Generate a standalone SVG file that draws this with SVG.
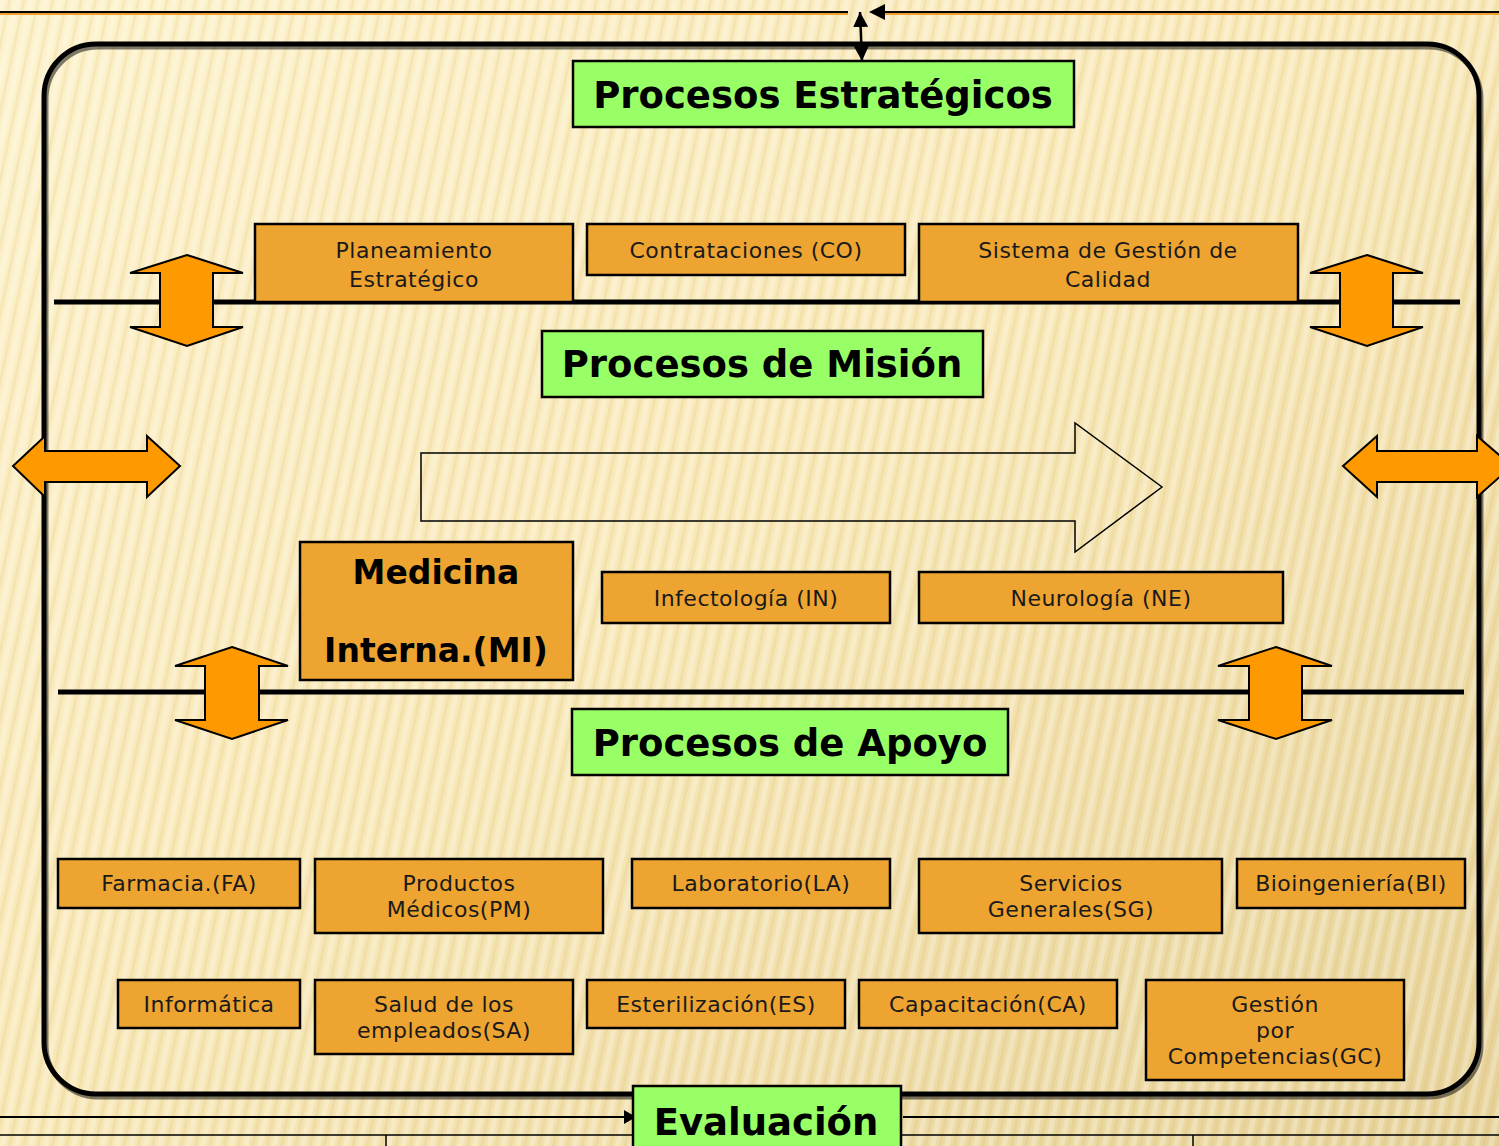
<svg xmlns="http://www.w3.org/2000/svg" width="1499" height="1146" viewBox="0 0 1499 1146">
<defs>
<linearGradient id="bg" x1="0" y1="0" x2="1" y2="1">
<stop offset="0" stop-color="#FDF2CC"/>
<stop offset="0.5" stop-color="#F8E8B8"/>
<stop offset="1" stop-color="#E6D29A"/>
</linearGradient>
<pattern id="stripes" width="14" height="14" patternUnits="userSpaceOnUse" patternTransform="rotate(12)">
<rect x="0" y="0" width="5" height="14" fill="#FFFFFF" opacity="0.25"/>
<rect x="8" y="0" width="3" height="14" fill="#C9A44A" opacity="0.12"/>
</pattern>
<marker id="ah" viewBox="0 0 10 10" refX="10" refY="5" markerWidth="6" markerHeight="6" orient="auto-start-reverse">
<path d="M0,0 L10,5 L0,10 z" fill="#000"/>
</marker>
<style>
.lbl{font-family:"DejaVu Sans",Verdana,sans-serif;font-size:22px;letter-spacing:0.5px;fill:#1a1a1a;text-anchor:middle}
.big{font-family:"DejaVu Sans",Verdana,sans-serif;font-weight:bold;font-size:37px;fill:#000;text-anchor:middle}
.mi{font-family:"DejaVu Sans",Verdana,sans-serif;font-weight:bold;font-size:33px;fill:#000;text-anchor:middle}
.ob{fill:#EEA431;stroke:#000;stroke-width:2.5}
.gb{fill:#99FF66;stroke:#000;stroke-width:2.5}
.oa{fill:#FF9900;stroke:#000;stroke-width:2;stroke-linejoin:miter}
.ln{stroke:#000;fill:none}
</style>
</defs>
<rect width="1499" height="1146" fill="url(#bg)"/>
<rect width="1499" height="1146" fill="url(#stripes)"/>

<g id="connectors">
<line x1="0" y1="14" x2="848" y2="14" stroke="#F0A030" stroke-width="2"/>
<line x1="880" y1="14" x2="1499" y2="14" stroke="#F0A030" stroke-width="2"/>
<line x1="0" y1="12" x2="848" y2="12" class="ln" stroke-width="2"/>
<line x1="1499" y1="12" x2="872" y2="12" class="ln" stroke-width="2"/>
<path d="M869,12 L885,4 L885,20 z" fill="#000"/>
<line x1="860" y1="12" x2="862" y2="61" class="ln" stroke-width="2.5" marker-start="url(#ah)" marker-end="url(#ah)"/>
<rect x="44" y="44" width="1435" height="1050" rx="52" ry="52" class="ln" stroke="#6b6250" stroke-width="5" transform="translate(2,3)" opacity="0.5"/>
<rect x="44" y="44" width="1435" height="1050" rx="52" ry="52" class="ln" stroke-width="5"/>
<line x1="54" y1="302" x2="1460" y2="302" class="ln" stroke-width="5"/>
<line x1="58" y1="692" x2="1464" y2="692" class="ln" stroke-width="5"/>
<line x1="0" y1="1117" x2="624" y2="1117" class="ln" stroke-width="2"/>
<path d="M636,1117 L624,1110 L624,1124 z" fill="#000"/>
<line x1="903" y1="1117" x2="1499" y2="1117" class="ln" stroke-width="2"/>
<line x1="0" y1="1135" x2="1499" y2="1135" class="ln" stroke-width="1.5"/>
<line x1="386" y1="1135" x2="386" y2="1146" class="ln" stroke-width="1.5"/>
<line x1="1193" y1="1135" x2="1193" y2="1146" class="ln" stroke-width="1.5"/>
<polygon class="oa" points="187,255 243,273 213,273 213,327 243,327 187,346 130,327 160,327 160,273 130,273"/>
<polygon class="oa" points="1367,255 1423,273 1393,273 1393,327 1423,327 1367,346 1310,327 1340,327 1340,273 1310,273"/>
<polygon class="oa" points="232,647 288,666 259,666 259,720 288,720 232,739 175,720 205,720 205,666 175,666"/>
<polygon class="oa" points="1276,647 1332,666 1302,666 1302,720 1332,720 1276,739 1218,720 1249,720 1249,666 1218,666"/>
<polygon class="oa" points="13,466 45,436 45,451 147,451 147,436 180,466 147,497 147,482 45,482 45,497"/>
<polygon class="oa" points="1343,466 1377,436 1377,451 1477,451 1477,436 1512,466 1477,497 1477,482 1377,482 1377,497"/>
<polygon points="421,453 1075,453 1075,423 1162,487 1075,552 1075,521 421,521" fill="none" stroke="#000" stroke-width="1.5"/>
</g>

<g id="n-estrategicos"><rect class="gb" x="573" y="61" width="501" height="66"/><text class="big" x="823" y="108">Procesos Estratégicos</text></g>
<g id="n-mision"><rect class="gb" x="542" y="331" width="441" height="66"/><text class="big" x="762" y="377">Procesos de Misión</text></g>
<g id="n-apoyo"><rect class="gb" x="572" y="709" width="436" height="66"/><text class="big" x="790" y="756">Procesos de Apoyo</text></g>
<g id="n-evaluacion"><rect class="gb" x="633" y="1086" width="268" height="70"/><text class="big" x="766" y="1135">Evaluación</text></g>

<g id="n-pe"><rect class="ob" x="255" y="224" width="318" height="78"/><text class="lbl" x="414" y="258">Planeamiento</text><text class="lbl" x="414" y="287">Estratégico</text></g>
<g id="n-co"><rect class="ob" x="587" y="224" width="318" height="51"/><text class="lbl" x="746" y="258">Contrataciones (CO)</text></g>
<g id="n-sgc"><rect class="ob" x="919" y="224" width="379" height="78"/><text class="lbl" x="1108" y="258">Sistema de Gestión de</text><text class="lbl" x="1108" y="287">Calidad</text></g>

<g id="n-mi"><rect class="ob" x="300" y="542" width="273" height="138"/><text class="mi" x="436" y="584">Medicina</text><text class="mi" x="436" y="662">Interna.(MI)</text></g>
<g id="n-in"><rect class="ob" x="602" y="572" width="288" height="51"/><text class="lbl" x="746" y="606">Infectología (IN)</text></g>
<g id="n-ne"><rect class="ob" x="919" y="572" width="364" height="51"/><text class="lbl" x="1101" y="606">Neurología (NE)</text></g>

<g id="n-fa"><rect class="ob" x="58" y="859" width="242" height="49"/><text class="lbl" x="179" y="891">Farmacia.(FA)</text></g>
<g id="n-pm"><rect class="ob" x="315" y="859" width="288" height="74"/><text class="lbl" x="459" y="891">Productos</text><text class="lbl" x="459" y="917">Médicos(PM)</text></g>
<g id="n-la"><rect class="ob" x="632" y="859" width="258" height="49"/><text class="lbl" x="761" y="891">Laboratorio(LA)</text></g>
<g id="n-sg"><rect class="ob" x="919" y="859" width="303" height="74"/><text class="lbl" x="1071" y="891">Servicios</text><text class="lbl" x="1071" y="917">Generales(SG)</text></g>
<g id="n-bi"><rect class="ob" x="1237" y="859" width="228" height="49"/><text class="lbl" x="1351" y="891">Bioingeniería(BI)</text></g>

<g id="n-inf"><rect class="ob" x="118" y="980" width="182" height="48"/><text class="lbl" x="209" y="1012">Informática</text></g>
<g id="n-sa"><rect class="ob" x="315" y="980" width="258" height="74"/><text class="lbl" x="444" y="1012">Salud de los</text><text class="lbl" x="444" y="1038">empleados(SA)</text></g>
<g id="n-es"><rect class="ob" x="587" y="980" width="258" height="48"/><text class="lbl" x="716" y="1012">Esterilización(ES)</text></g>
<g id="n-ca"><rect class="ob" x="859" y="980" width="258" height="48"/><text class="lbl" x="988" y="1012">Capacitación(CA)</text></g>
<g id="n-gc"><rect class="ob" x="1146" y="980" width="258" height="100"/><text class="lbl" x="1275" y="1012">Gestión</text><text class="lbl" x="1275" y="1038">por</text><text class="lbl" x="1275" y="1064">Competencias(GC)</text></g>
</svg>
